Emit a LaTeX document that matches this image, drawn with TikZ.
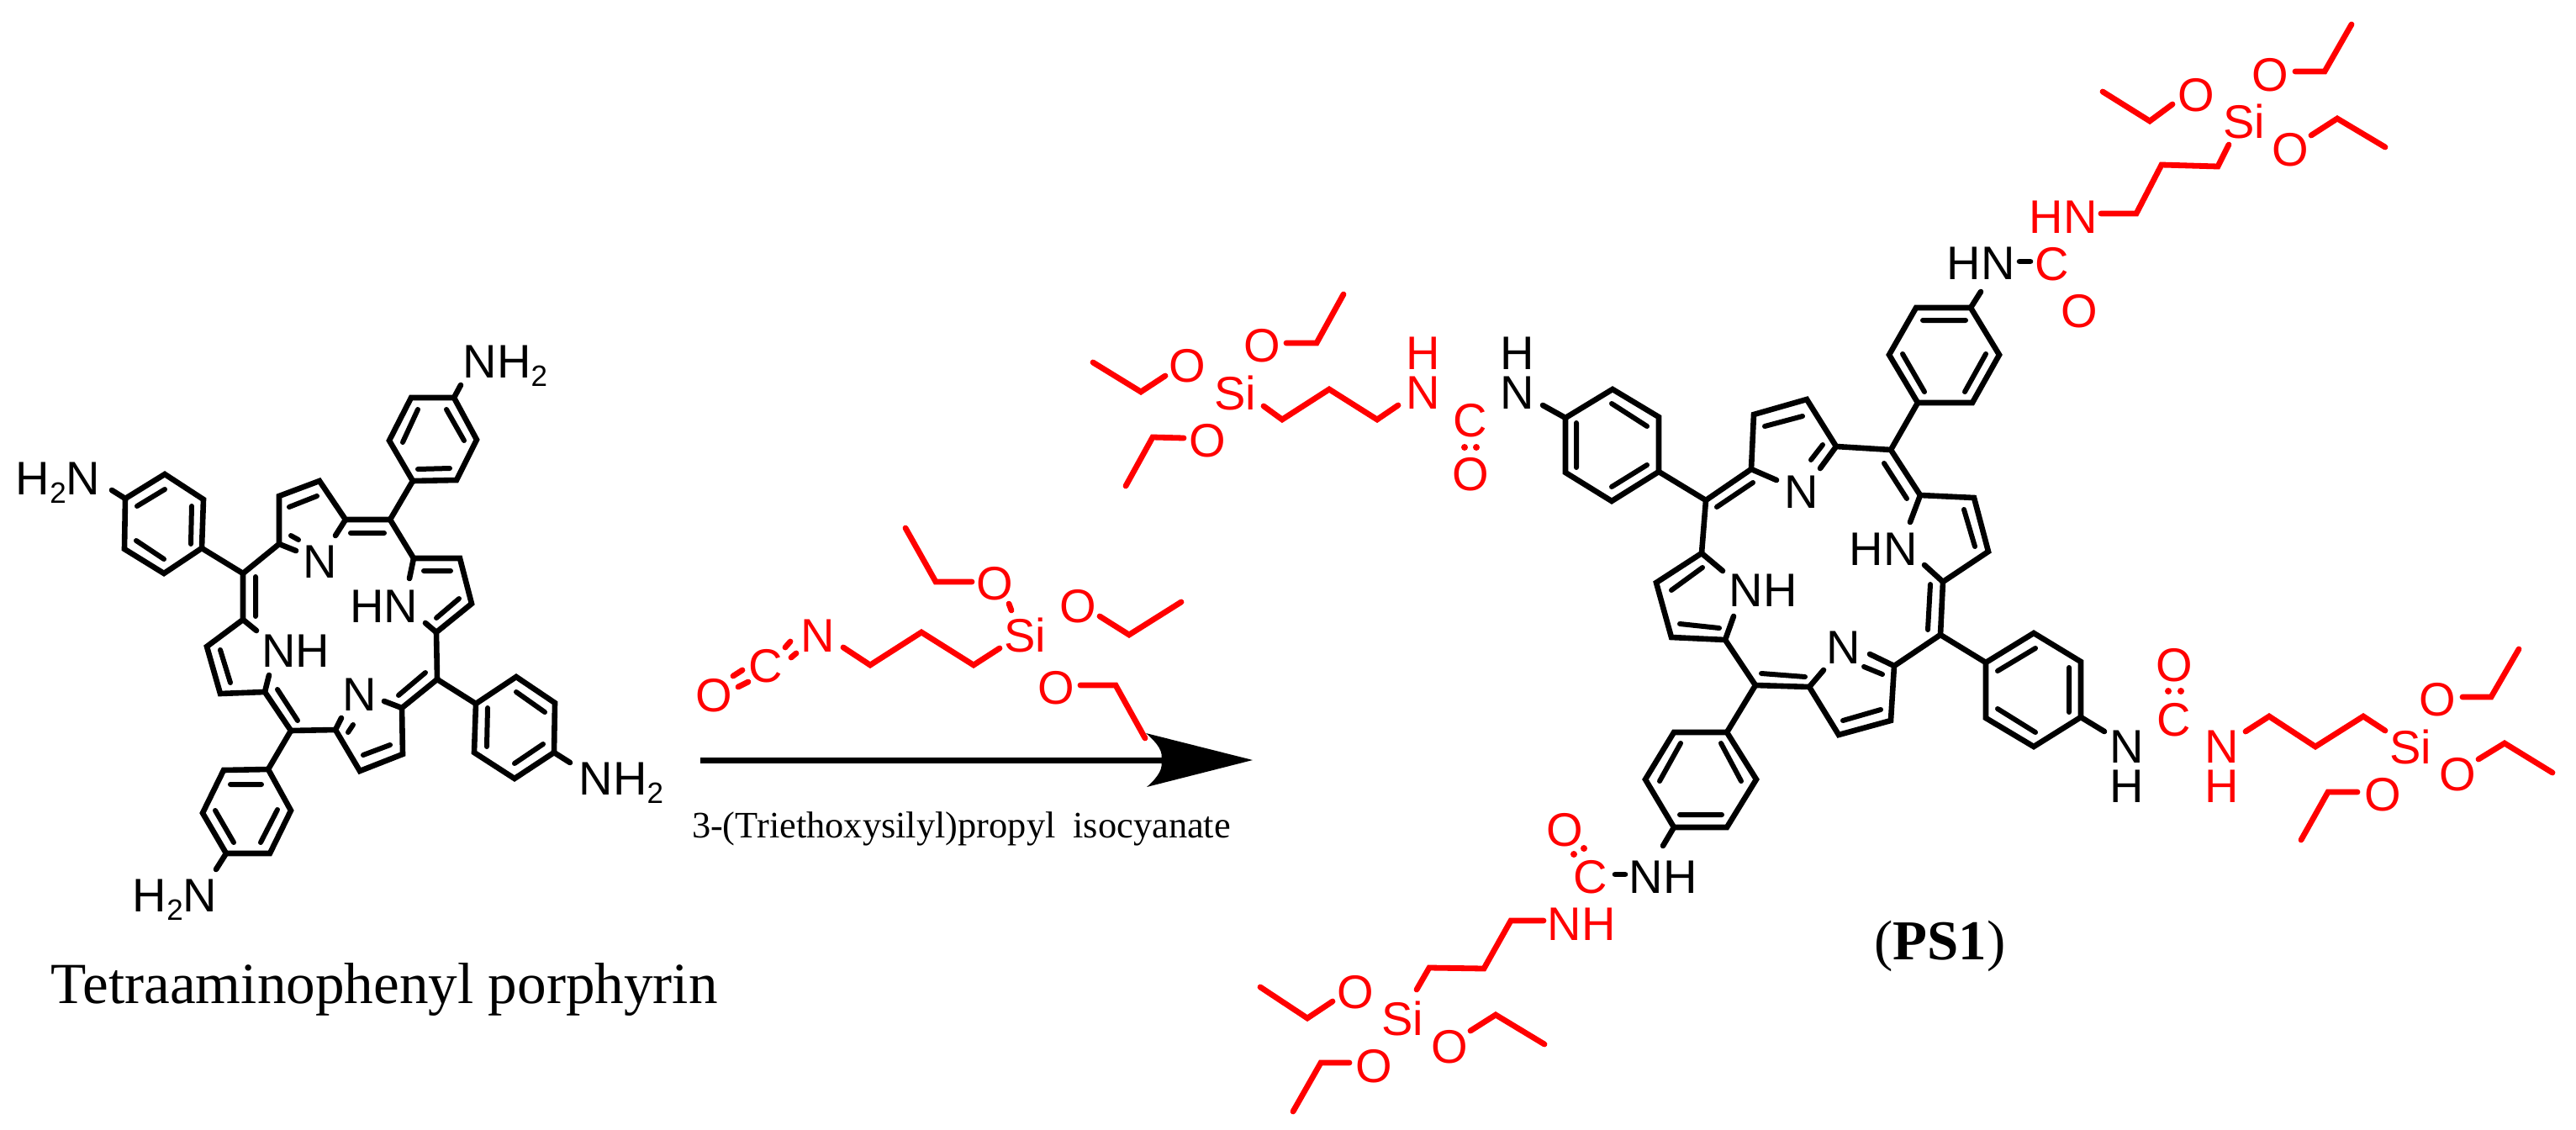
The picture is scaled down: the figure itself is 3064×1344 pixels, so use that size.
\documentclass[tikz,border=0pt]{standalone}
\usepackage{fontspec}
\setmainfont{Liberation Serif}
\newfontfamily\chemfont{Liberation Sans}
\definecolor{chemred}{RGB}{255,0,0}
\newcommand{\subtwo}{\raisebox{-5pt}{\fontsize{17.5}{18}\selectfont 2}}
\tikzset{
  bond/.style={draw=black,line width=3.3pt,line cap=round,line join=miter},
  rbond/.style={draw=chemred,line width=3.4pt,line cap=round,line join=miter},
  inner/.style={draw=black,line width=3pt,line cap=round},
  atom/.style={anchor=base,inner sep=0pt,outer sep=0pt,text=black,font=\chemfont\fontsize{28}{30}\selectfont},
  ratom/.style={atom,text=chemred},
  stackatom/.style={atom,align=center,font=\chemfont\fontsize{28}{23.5}\selectfont},
  rstackatom/.style={stackatom,text=chemred},
  caption/.style={anchor=base west,inner sep=0pt,outer sep=0pt,text=black}
}
\begin{document}
\begin{tikzpicture}[x=0.5pt,y=-0.5pt]
\useasboundingbox (0,0) rectangle (3064,1344);
% ===== left molecule =====
% phenyl A
\draw[bond] (196,564)--(242,594)--(240,652)--(195,682)--(148,653)--(149,593)--cycle;
\draw[inner] (163,602)--(196,582) (228,602)--(227,647) (162,643)--(195,665);
\draw[bond] (149,593)--(133,583) (240,652)--(289,682);
\node[atom] (lHtwoNa) at (69,588) {H\subtwo N};
% pyrrole 1
\draw[bond] (289,682)--(332,647)--(332,590)--(380,572)--(411,618)--(464,618);
\draw[bond] (332,647)--(352,655) (411,618)--(399,637);
\draw[inner] (346,637)--(355,642) (344,603)--(377,590) (417,634)--(457,634);
\node[atom] (lNa) at (381,687) {N};
% phenyl B
\draw[bond] (464,618)--(491,572);
\draw[bond] (491,572)--(543,571)--(567,523)--(540,473)--(489,473)--(463,524)--cycle;
\draw[inner] (497,558)--(535,557) (531,487)--(552,524) (497,487)--(479,526);
\draw[bond] (540,473)--(548,458);
\node[atom] (lNHtwob) at (601,449) {NH\subtwo};
% pyrrole 2
\draw[bond] (464,618)--(492,664)--(547,664)--(561,718)--(519,752)--(520,808);
\draw[bond] (492,664)--(487,688) (519,752)--(506,741);
\draw[inner] (504,679)--(536,679) (546,712)--(519,735);
\node[atom] (lHNb) at (457,740) {HN};
% phenyl C
\draw[bond] (520,808)--(566,837);
\draw[bond] (566,837)--(614,805)--(660,836)--(659,895)--(612,926)--(564,895)--cycle;
\draw[inner] (614,823)--(648,847) (580,842)--(579,888) (612,908)--(646,885);
\draw[bond] (659,895)--(678,907);
\node[atom] (lNHtwoc) at (739,945) {NH\subtwo};
% pyrrole 3
\draw[bond] (520,808)--(478,842)--(479,897)--(428,917)--(399,868)--(346,869);
\draw[bond] (478,842)--(457,834) (399,868)--(406,854);
\draw[inner] (506,800)--(474,827) (420,862)--(414,871) (464,886)--(432,898);
\node[atom] (lNc) at (428,845) {N};
% pyrrole 4
\draw[bond] (346,869)--(315,823)--(262,825)--(246,769)--(289,737)--(289,682);
\draw[bond] (315,823)--(320,803) (289,737)--(305,750);
\draw[inner] (330,820)--(354,857) (262,773)--(274,812) (304,686)--(304,733);
\node[atom] (lNHd) at (352,793) {NH};
% phenyl D
\draw[bond] (346,869)--(319,915);
\draw[bond] (319,915)--(266,916)--(241,967)--(269,1015)--(321,1015)--(346,964)--cycle;
\draw[inner] (274,933)--(311,933) (256,964)--(278,1002) (330,963)--(310,1002);
\draw[bond] (269,1015)--(257,1034);
\node[atom] (lHtwoNd) at (208,1084) {H\subtwo N};
\node[caption,font=\fontsize{34.6}{36}\selectfont] (leftcap) at (61,1193) {Tetraaminophenyl porphyrin};

% ===== reagent =====
\node[ratom] (rgO) at (849,846) {O};
\node[ratom] (rgC) at (911,811) {C};
\node[ratom] (rgN) at (973,775) {N};
\draw[rbond] (872,804)--(883,797) (878,817)--(890,811) (934,770)--(940,763) (941,782)--(947,777);
\draw[rbond] (1003,770)--(1035,791)--(1096,752)--(1158,791)--(1189,771);
\node[ratom] (rgSi) at (1219,775) {Si};
\node[ratom] (rgOa) at (1183,713) {O};
\node[ratom] (rgOb) at (1282,740) {O};
\node[ratom] (rgOc) at (1256,837) {O};
\draw[rbond] (1200,718)--(1203,726);
\draw[rbond] (1156,692)--(1113,692)--(1077,628);
\draw[rbond] (1308,733)--(1343,755)--(1405,716);
\draw[rbond] (1285,815)--(1327,815)--(1362,878);
% arrow
\draw[draw=black,line width=3.5pt] (833,904)--(1385,904);
\fill[black] (1490,904)--(1363,872) .. controls (1378,885) and (1384,895) .. (1381,904) .. controls (1384,913) and (1378,924) .. (1364,936)--cycle;
\node[caption,font=\fontsize{22.2}{24}\selectfont] (rgcap) at (823,996) {3-(Triethoxysilyl)propyl\hspace{5pt} isocyanate};

% ===== right molecule: core =====
% pyrrole A
\draw[bond] (2029,595)--(2083,558)--(2086,493)--(2149,475)--(2184,531)--(2249,535);
\draw[bond] (2083,558)--(2113,571) (2184,531)--(2165,557);
\draw[inner] (2042,603)--(2085,574) (2099,507)--(2144,495) (2168,529)--(2154,547);
\node[atom] (rNa) at (2143,604) {N};
% pyrrole B
\draw[bond] (2249,535)--(2284,589)--(2348,592)--(2365,656)--(2311,692)--(2308,755);
\draw[bond] (2284,589)--(2272,621) (2311,692)--(2289,672);
\draw[inner] (2241,551)--(2268,593) (2336,606)--(2349,650) (2296,695)--(2293,749);
\node[atom] (rHNb) at (2240,672) {HN};
% pyrrole C
\draw[bond] (2308,755)--(2253,792)--(2249,857)--(2187,874)--(2152,817)--(2088,815);
\draw[bond] (2253,792)--(2224,778) (2152,817)--(2169,797);
\draw[inner] (2217,793)--(2239,802) (2237,844)--(2192,857) (2095,801)--(2147,805);
\node[atom] (rNc) at (2193,789) {N};
% pyrrole D
\draw[bond] (2088,815)--(2052,761)--(1988,758)--(1970,693)--(2024,658)--(2029,595);
\draw[bond] (2052,761)--(2062,733) (2024,658)--(2049,679);
\draw[inner] (1998,742)--(2045,747) (1988,702)--(2025,675);
\node[atom] (rNHd) at (2097,721) {NH};

% phenyl E with red arm (left)
\draw[bond] (2029,595)--(1973,561);
\draw[bond] (1973,561)--(1973,496)--(1918,463)--(1862,497)--(1862,562)--(1917,596)--cycle;
\draw[inner] (1917,480)--(1959,507) (1875,503)--(1875,556) (1917,579)--(1959,553);
\draw[bond] (1862,497)--(1835,482);
\node[stackatom] (eHN) at (1805,486) {H\\N};
\node[rstackatom] (eHNr) at (1693,486) {H\\N};
\node[ratom] (eC) at (1749,519) {C};
\node[ratom] (eO) at (1749,583) {O};
\fill[chemred] (1742,532) circle (4) (1756,532) circle (4);
\draw[rbond] (1663,482)--(1638,499)--(1581,463)--(1525,499)--(1503,483);
\node[ratom] (eSi) at (1469,487) {Si};
\node[ratom] (eOa) at (1412,454) {O};
\node[ratom] (eOb) at (1501,430) {O};
\node[ratom] (eOc) at (1436,543) {O};
\draw[rbond] (1386,447)--(1357,466)--(1300,431);
\draw[rbond] (1530,408)--(1566,408)--(1598,350);
\draw[rbond] (1408,521)--(1371,520)--(1339,578);

% phenyl F with red arm (top)
\draw[bond] (2249,535)--(2281,479);
\draw[bond] (2281,479)--(2346,479)--(2378,422)--(2344,366)--(2279,366)--(2247,422)--cycle;
\draw[inner] (2287,381)--(2338,381) (2263,421)--(2289,466) (2362,421)--(2337,466);
\draw[bond] (2344,366)--(2356,347);
\node[atom] (fHN) at (2356,332) {HN};
\draw[bond] (2402,311)--(2415,311);
\node[ratom] (fC) at (2441,333) {C};
\node[ratom] (fO) at (2473,389) {O};
\node[ratom] (fHNr) at (2454,277) {HN};
\draw[rbond] (2499,254)--(2541,254)--(2571,196)--(2638,198)--(2651,172);
\node[ratom] (fSi) at (2669,164) {Si};
\node[ratom] (fOa) at (2612,132) {O};
\node[ratom] (fOb) at (2700,108) {O};
\node[ratom] (fOc) at (2724,197) {O};
\draw[rbond] (2584,124)--(2557,144)--(2501,109);
\draw[rbond] (2730,85)--(2765,85)--(2797,29);
\draw[rbond] (2749,161)--(2780,141)--(2837,175);

% phenyl H with red arm (right)
\draw[bond] (2308,755)--(2362,788);
\draw[bond] (2362,788)--(2419,753)--(2475,787)--(2475,853)--(2419,888)--(2362,854)--cycle;
\draw[inner] (2376,798)--(2421,771) (2461,794)--(2461,847) (2376,843)--(2421,871);
\draw[bond] (2475,853)--(2503,870);
\node[stackatom] (hNH) at (2530,954) {N\\H};
\node[ratom] (hO) at (2586,810) {O};
\fill[chemred] (2579,822) circle (4) (2594,822) circle (4);
\node[ratom] (hC) at (2586,875) {C};
\node[rstackatom] (hNHr) at (2643,954) {N\\H};
\draw[rbond] (2671,870)--(2699,852)--(2754,888)--(2811,852)--(2837,869);
\node[ratom] (hSi) at (2867,908) {Si};
\node[ratom] (hOa) at (2899,851) {O};
\node[ratom] (hOb) at (2923,940) {O};
\node[ratom] (hOc) at (2834,964) {O};
\draw[rbond] (2929,829)--(2963,829)--(2996,772);
\draw[rbond] (2948,903)--(2979,884)--(3036,919);
\draw[rbond] (2804,942)--(2769,942)--(2737,999);

% phenyl G with red arm (bottom)
\draw[bond] (2088,815)--(2054,871);
\draw[bond] (2054,871)--(1991,871)--(1957,927)--(1991,984)--(2054,984)--(2089,927)--cycle;
\draw[inner] (1999,884)--(1974,929) (2047,884)--(2071,929) (1998,969)--(2048,969);
\draw[bond] (1991,984)--(1978,1006);
\node[atom] (gNH) at (1978,1062) {NH};
\draw[bond] (1921,1040)--(1933,1040);
\node[ratom] (gC) at (1892,1062) {C};
\node[ratom] (gO) at (1861,1006) {O};
\fill[chemred] (1872,1016) circle (4) (1884,1009) circle (4);
\node[ratom] (gNHr) at (1881,1118) {NH};
\draw[rbond] (1836,1095)--(1797,1095)--(1765,1152)--(1700,1151)--(1685,1177);
\node[ratom] (gSi) at (1668,1231) {Si};
\node[ratom] (gOa) at (1612,1199) {O};
\node[ratom] (gOb) at (1634,1287) {O};
\node[ratom] (gOc) at (1724,1264) {O};
\draw[rbond] (1585,1191)--(1555,1211)--(1499,1174);
\draw[rbond] (1605,1264)--(1571,1264)--(1538,1322);
\draw[rbond] (1749,1226)--(1779,1207)--(1837,1242);

\node[caption,font=\fontsize{33.5}{36}\selectfont] (pslabel) at (2229,1141) {(\textbf{PS1})};
\end{tikzpicture}
\end{document}
